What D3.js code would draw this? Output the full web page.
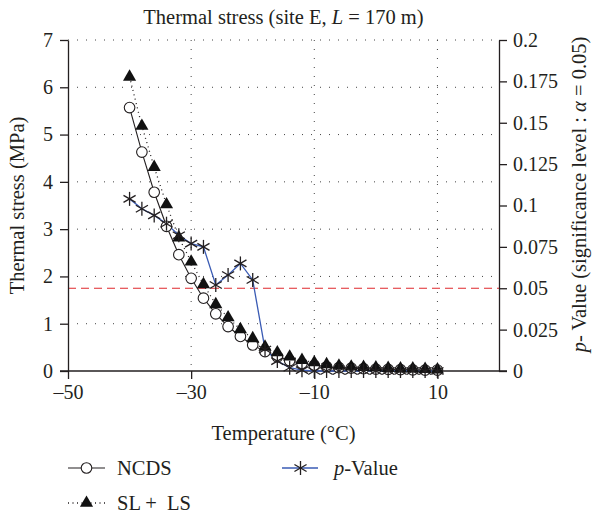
<!DOCTYPE html>
<html>
<head>
<meta charset="utf-8">
<script src="https://cdn.jsdelivr.net/npm/d3@7/dist/d3.min.js"></script>
<style>
  html, body { margin: 0; padding: 0; background: #fff; }
  svg { display: block; }
  text { font-family: "Liberation Serif", "DejaVu Serif", serif; fill: #231f20; }
</style>
</head>
<body>
<svg id="chart" width="592" height="517"></svg>
<script>
// Temperatures (°C) at which the stresses were evaluated
const temperature = [-40, -38, -36, -34, -32, -30, -28, -26, -24, -22, -20, -18, -16,
                     -14, -12, -10, -8, -6, -4, -2, 0, 2, 4, 6, 8, 10];
// Thermal stress (MPa), NCDS method
const ncds = [5.57, 4.63, 3.78, 3.06, 2.46, 1.96, 1.54, 1.21, 0.94, 0.73, 0.55, 0.41, 0.30,
              0.22, 0.16, 0.12, 0.09, 0.07, 0.06, 0.05, 0.04, 0.035, 0.03, 0.025, 0.02, 0.02];
// Thermal stress (MPa), SL + LS method
const slls = [6.22, 5.18, 4.31, 3.52, 2.82, 2.31, 1.83, 1.41, 1.13, 0.88, 0.69, 0.51, 0.39,
              0.30, 0.23, 0.18, 0.14, 0.11, 0.09, 0.08, 0.07, 0.06, 0.05, 0.05, 0.04, 0.03];
// p-value of the comparison between both methods
const pValue = [0.104, 0.098, 0.094, 0.089, 0.082, 0.077, 0.075, 0.052, 0.058, 0.065, 0.055, 0.013, 0.006,
                0.002, 0.0005, 0, 0, 0, 0, 0, 0, 0, 0, 0, 0, 0];
const alpha = 0.05;

const xTicks = [-50, -30, -10, 10];
const xTickLabels = ["\u201350", "\u201330", "\u201310", "10"];
const yTicks = [0, 1, 2, 3, 4, 5, 6, 7];
const pTicks = [0, 0.025, 0.05, 0.075, 0.1, 0.125, 0.15, 0.175, 0.2];

const svg = d3.select("#chart");
const plotL = 68, plotR = 499, plotT = 40, plotB = 371;

const x = d3.scaleLinear().domain([-50, 20]).range([plotL, plotR]);
const y = d3.scaleLinear().domain([0, 7]).range([plotB, plotT]);
const yp = d3.scaleLinear().domain([0, 0.2]).range([plotB, plotT]);

const ink = "#231f20";
const fs = 20;      // tick labels
const fsT = 20.5;   // titles and legend

// grid
const grid = svg.append("g");
grid.selectAll("line.h").data(yTicks.filter(d => d > 0)).join("line")
  .attr("x1", plotL).attr("x2", plotR).attr("y1", d => y(d)).attr("y2", d => y(d))
  .attr("stroke", "#444").attr("stroke-width", 1).attr("stroke-dasharray", "1,8");
grid.selectAll("line.v").data(xTicks.filter(d => d > -50)).join("line")
  .attr("x1", d => x(d)).attr("x2", d => x(d)).attr("y1", plotT).attr("y2", plotB)
  .attr("stroke", "#444").attr("stroke-width", 1).attr("stroke-dasharray", "1,8");

// significance threshold
svg.append("line")
  .attr("x1", plotL).attr("x2", plotR).attr("y1", yp(alpha)).attr("y2", yp(alpha))
  .attr("stroke", "#e0282e").attr("stroke-width", 1.2).attr("stroke-dasharray", "8,5");

// axes
function styleAxis(g) {
  g.select(".domain").attr("stroke", ink).attr("stroke-width", 1.3);
  g.selectAll(".tick line").attr("stroke", ink).attr("stroke-width", 1.3);
  g.selectAll(".tick text").attr("font-size", fs).attr("fill", ink);
}
const xAxis = svg.append("g").attr("transform", `translate(0,${plotB})`)
  .call(d3.axisBottom(x).tickValues(xTicks).tickFormat((d, i) => xTickLabels[i]).tickSize(8).tickSizeOuter(0).tickPadding(6));
styleAxis(xAxis);
xAxis.select(".domain").attr("d", `M${plotL - 8},0H${plotR + 8}`);

const yAxis = svg.append("g").attr("transform", `translate(${plotL},0)`)
  .call(d3.axisLeft(y).tickValues(yTicks).tickFormat(d3.format("d")).tickSize(8).tickSizeOuter(0).tickPadding(7));
styleAxis(yAxis);

const pAxis = svg.append("g").attr("transform", `translate(${plotR},0)`)
  .call(d3.axisRight(yp).tickValues(pTicks).tickFormat(d => d === 0 ? "0" : String(+d.toFixed(3))).tickSize(8).tickSizeOuter(0).tickPadding(6));
styleAxis(pAxis);

// series lines
const line = (ys, vals) => d3.line().x((d, i) => x(temperature[i])).y((d, i) => ys(vals[i]));

svg.append("path").datum(ncds).attr("d", line(y, ncds))
  .attr("fill", "none").attr("stroke", ink).attr("stroke-width", 1.1);
svg.append("path").datum(slls).attr("d", line(y, slls))
  .attr("fill", "none").attr("stroke", ink).attr("stroke-width", 1.3).attr("stroke-dasharray", "1,3.5");
svg.append("path").datum(pValue).attr("d", line(yp, pValue))
  .attr("fill", "none").attr("stroke", "#3a5bb4").attr("stroke-width", 1.3);

// markers
function star(g, cx, cy, r) {
  const s = g.append("g").attr("transform", `translate(${cx},${cy})`);
  [90, 30, 150].forEach(a => {
    const rad = a * Math.PI / 180;
    s.append("line")
      .attr("x1", -r * Math.cos(rad)).attr("y1", -r * Math.sin(rad))
      .attr("x2", r * Math.cos(rad)).attr("y2", r * Math.sin(rad))
      .attr("stroke", ink).attr("stroke-width", 1.3);
  });
}
const tri = d3.symbol().type(d3.symbolTriangle).size(75);

svg.append("g").selectAll("circle").data(ncds).join("circle")
  .attr("cx", (d, i) => x(temperature[i])).attr("cy", d => y(d)).attr("r", 5.3)
  .attr("fill", "#fff").attr("stroke", ink).attr("stroke-width", 1.1);

svg.append("g").selectAll("path").data(slls).join("path")
  .attr("d", tri).attr("transform", (d, i) => `translate(${x(temperature[i])},${y(d)})`)
  .attr("fill", "#111");

const starG = svg.append("g");
pValue.forEach((d, i) => star(starG, x(temperature[i]), yp(d), 7));

// titles
svg.append("text").attr("x", (plotL + plotR) / 2).attr("y", 24).attr("text-anchor", "middle").attr("font-size", fsT)
  .html('Thermal stress (site E, <tspan font-style="italic">L</tspan> = 170 m)');

svg.append("text").attr("x", (plotL + plotR) / 2).attr("y", 440).attr("text-anchor", "middle").attr("font-size", fsT)
  .text("Temperature (°C)");

svg.append("text").attr("transform", `translate(24,${(plotT + plotB) / 2}) rotate(-90)`)
  .attr("text-anchor", "middle").attr("font-size", fsT)
  .text("Thermal stress (MPa)");

svg.append("text").attr("transform", `translate(586,${(plotT + plotB) / 2 - 11}) rotate(-90)`)
  .attr("text-anchor", "middle").attr("font-size", fsT)
  .html('<tspan font-style="italic">p</tspan>- Value (significance level : <tspan font-style="italic">α</tspan> = 0.05)');

// legend
const lg = svg.append("g");
const r1 = 468, r2 = 503;
// NCDS
lg.append("line").attr("x1", 68).attr("x2", 105).attr("y1", r1).attr("y2", r1).attr("stroke", ink).attr("stroke-width", 1.1);
lg.append("circle").attr("cx", 86.5).attr("cy", r1).attr("r", 5.3).attr("fill", "#fff").attr("stroke", ink).attr("stroke-width", 1.1);
lg.append("text").attr("x", 117).attr("y", r1 + 7).attr("font-size", fsT).text("NCDS");
// SL + LS
lg.append("line").attr("x1", 68).attr("x2", 105).attr("y1", r2).attr("y2", r2).attr("stroke", ink).attr("stroke-width", 1.3).attr("stroke-dasharray", "1,3.5");
lg.append("path").attr("d", tri).attr("transform", `translate(86.5,${r2})`).attr("fill", "#111");
lg.append("text").attr("x", 117).attr("y", r2 + 7).attr("font-size", fsT).html("SL +&#160; LS");
// p-Value
lg.append("line").attr("x1", 282).attr("x2", 318).attr("y1", r1).attr("y2", r1).attr("stroke", "#3a5bb4").attr("stroke-width", 1.3);
star(lg, 300.5, r1, 7);
lg.append("text").attr("x", 334).attr("y", r1 + 7).attr("font-size", fsT)
  .html('<tspan font-style="italic">p</tspan>-Value');
</script>
</body>
</html>
